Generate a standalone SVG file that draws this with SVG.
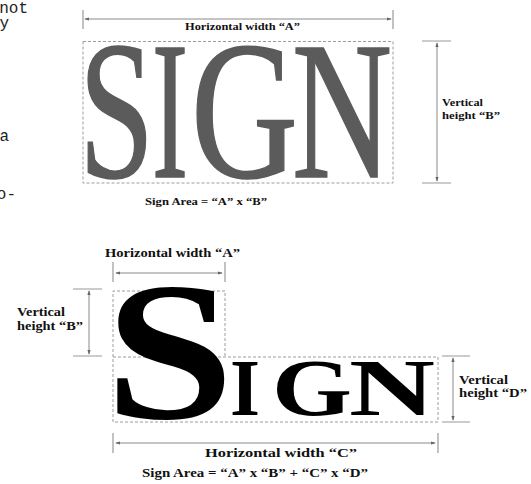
<svg xmlns="http://www.w3.org/2000/svg" width="531" height="484" viewBox="0 0 531 484">
<style>
.mono{font-family:"Liberation Mono","Courier New",monospace;font-size:16px;fill:#222}
.lbl{font-family:"Liberation Serif","Times New Roman",serif;font-weight:bold;fill:#111}
.dim{stroke:#8a8a8a;stroke-width:1;fill:none}
.tick{stroke:#9a9a9a;stroke-width:1.2;fill:none}
.box{stroke:#9c9c9c;stroke-width:1;stroke-dasharray:3 2;fill:none}
.big{font-family:"Liberation Serif","Times New Roman",serif}
.gs{font-size:197px;fill:#5b5b5b;stroke:#5b5b5b;stroke-width:1.6}
.bs{font-weight:bold;fill:#000}
</style>
<defs>
<marker id="ah" viewBox="0 0 6 6" refX="5" refY="3" markerWidth="5" markerHeight="5" orient="auto-start-reverse" markerUnits="userSpaceOnUse">
<path d="M0,1 L6,3 L0,5 Z" fill="#666"/>
</marker>
</defs>
<rect width="531" height="484" fill="#ffffff"/>
<g id="page-text">
<text class="mono" x="28" y="13" text-anchor="end">not</text>
<text class="mono" x="9" y="28" text-anchor="end">y</text>
<text class="mono" x="9" y="141" text-anchor="end">a</text>
<text class="mono" x="16" y="199" text-anchor="end">o-</text>
</g>
<g id="top-sign">
<rect class="box" x="83" y="41.5" width="310" height="141.5"/>
<text class="big gs" x="79" y="177" textLength="75" lengthAdjust="spacingAndGlyphs">S</text>
<text class="big gs" x="152" y="177" textLength="36" lengthAdjust="spacingAndGlyphs">I</text>
<text class="big gs" x="191" y="177" textLength="107" lengthAdjust="spacingAndGlyphs">G</text>
<text class="big gs" x="292" y="177" textLength="100" lengthAdjust="spacingAndGlyphs">N</text>
</g>
<g id="top-labels">
<text class="lbl" x="185" y="30" font-size="10.5" textLength="115" lengthAdjust="spacingAndGlyphs">Horizontal width “A”</text>
<text class="lbl" x="442" y="106" font-size="10.5" textLength="41" lengthAdjust="spacingAndGlyphs">Vertical</text>
<text class="lbl" x="442" y="119" font-size="10.5" textLength="58" lengthAdjust="spacingAndGlyphs">height “B”</text>
<text class="lbl" x="145" y="205" font-size="10.5" textLength="122" lengthAdjust="spacingAndGlyphs">Sign Area = “A” x “B”</text>
</g>
<g id="bottom-sign">
<path class="box" d="M113,357 V291 H225 V357 M113,357 H438 V422 H113 Z"/>
<text class="big bs" x="105" y="418" font-size="198" textLength="129" lengthAdjust="spacingAndGlyphs">S</text>
<text class="big bs" x="230" y="415" font-size="80" textLength="30" lengthAdjust="spacingAndGlyphs">I</text>
<text class="big bs" x="272" y="415" font-size="80" textLength="80" lengthAdjust="spacingAndGlyphs">G</text>
<text class="big bs" x="349" y="415" font-size="80" textLength="86" lengthAdjust="spacingAndGlyphs">N</text>
</g>
<g id="bottom-labels">
<text class="lbl" x="105" y="257" font-size="12" textLength="135" lengthAdjust="spacingAndGlyphs">Horizontal width “A”</text>
<text class="lbl" x="17" y="316" font-size="12" textLength="48" lengthAdjust="spacingAndGlyphs">Vertical</text>
<text class="lbl" x="17" y="330" font-size="12" textLength="66" lengthAdjust="spacingAndGlyphs">height “B”</text>
<text class="lbl" x="459" y="384" font-size="12" textLength="49" lengthAdjust="spacingAndGlyphs">Vertical</text>
<text class="lbl" x="459" y="397" font-size="12" textLength="68" lengthAdjust="spacingAndGlyphs">height “D”</text>
<text class="lbl" x="205" y="457" font-size="12" textLength="152" lengthAdjust="spacingAndGlyphs">Horizontal width “C”</text>
<text class="lbl" x="142" y="477" font-size="12" textLength="226" lengthAdjust="spacingAndGlyphs">Sign Area = “A” x “B” + “C” x “D”</text>
</g>
<g id="connectors">
<path class="tick" d="M83,10 V29 M393,10 V29"/>
<line class="dim" x1="85" y1="19" x2="391" y2="19" marker-start="url(#ah)" marker-end="url(#ah)"/>
<path class="tick" d="M422,41 H451 M422,183 H451"/>
<line class="dim" x1="437" y1="43" x2="437" y2="181" marker-start="url(#ah)" marker-end="url(#ah)"/>
<path class="tick" d="M113,262 V282 M225,262 V282"/>
<line class="dim" x1="116" y1="273" x2="222" y2="273" marker-start="url(#ah)" marker-end="url(#ah)"/>
<path class="tick" d="M73,289 H102 M73,356 H102"/>
<line class="dim" x1="89" y1="291" x2="89" y2="354" marker-start="url(#ah)" marker-end="url(#ah)"/>
<path class="tick" d="M442,356 H470 M442,422 H470"/>
<line class="dim" x1="453" y1="358" x2="453" y2="420" marker-start="url(#ah)" marker-end="url(#ah)"/>
<path class="tick" d="M113,433 V453 M438,433 V453"/>
<line class="dim" x1="116" y1="443" x2="435" y2="443" marker-start="url(#ah)" marker-end="url(#ah)"/>
</g>
</svg>
